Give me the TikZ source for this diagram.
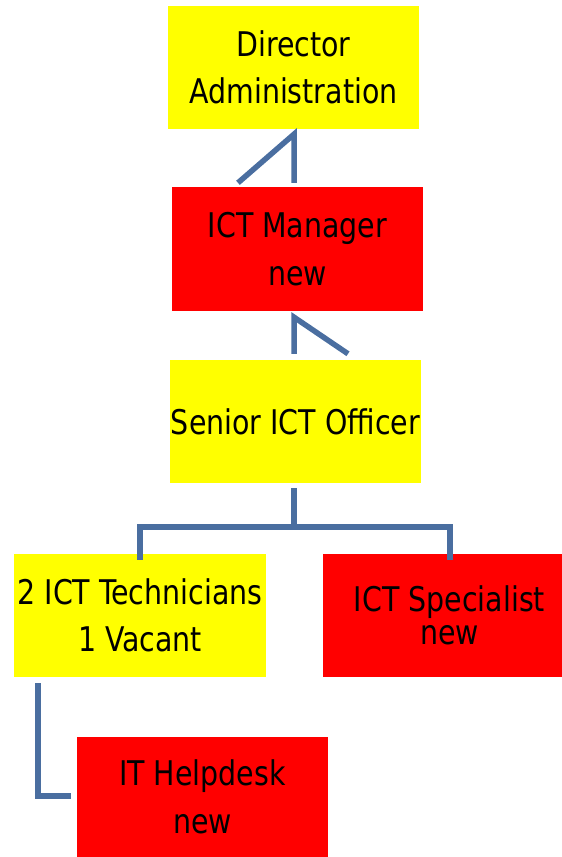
\documentclass[tikz,border=0pt]{standalone}
\usepackage{fontspec}
\setmainfont[FakeStretch=0.93]{DejaVu Sans Condensed}
\definecolor{ylw}{RGB}{255,255,0}
\definecolor{rd}{RGB}{255,0,0}
\definecolor{lnk}{RGB}{74,110,160}
\begin{document}
\begin{tikzpicture}[x=1pt,y=-1pt,
  box/.style={rectangle,inner sep=0pt,align=center,text=black,
    font={\fontsize{34}{47.5}\selectfont}},
  ybox/.style={box,fill=ylw},
  rbox/.style={box,fill=rd},
  link/.style={draw=lnk,line width=5.5pt,line cap=butt,line join=miter}]
\useasboundingbox (0,0) rectangle (562,857);
\node[ybox,minimum width=251pt,minimum height=123pt] (dir) at (293.5,67.5) {Director\\Administration};
\node[rbox,minimum width=251pt,minimum height=124pt] (mgr) at (297.5,249) {ICT Manager\\new};
\node[ybox,minimum width=251pt,minimum height=123pt] (sen) at (295.5,421.5) {Senior ICT Officer};
\node[ybox,minimum width=252pt,minimum height=123pt] (tech) at (140,615.5) {2 ICT Technicians\\1 Vacant};
\node[rbox,minimum width=239pt,minimum height=123pt,font={\fontsize{34}{33}\selectfont}] (spec) at (442.5,615.5) {\hspace*{14pt}ICT Specialist\\\hspace*{14pt}new};
\node[rbox,minimum width=251pt,minimum height=120pt] (help) at (202.5,797) {IT Helpdesk\\new};
% Director -> Manager
\coordinate (a1) at ([xshift=0.5pt,yshift=-5pt]dir.south);
\coordinate (a2) at ([xshift=-3.5pt,yshift=4pt]mgr.north);
\coordinate (a3) at ([xshift=-59.5pt,yshift=4pt]mgr.north);
\draw[link] (a3) -- (a1) -- (a2);
% Manager -> Senior
\coordinate (b1) at ([xshift=-3.5pt,yshift=-6pt]mgr.south);
\coordinate (b2) at ([xshift=-1.5pt,yshift=6pt]sen.north);
\coordinate (b3) at ([xshift=52.5pt,yshift=6pt]sen.north);
\draw[link] (b2) -- (b1) -- (b3);
% Senior -> Technicians, Specialist
\coordinate (c1) at ([xshift=-1.5pt,yshift=-5pt]sen.south);
\coordinate (c2) at ([yshift=-6pt]tech.north);
\coordinate (c3) at ([xshift=7.5pt,yshift=-6pt]spec.north);
\draw[link] (c1) -- ++(0,39) coordinate (cm);
\draw[link] (c2) |- (cm) -| (c3);
% Technicians -> Helpdesk
\coordinate (d1) at ([xshift=24pt,yshift=-6pt]tech.south west);
\coordinate (d2) at ([xshift=-6pt,yshift=1pt]help.west);
\draw[link] (d1) |- (d2);
\end{tikzpicture}
\end{document}
